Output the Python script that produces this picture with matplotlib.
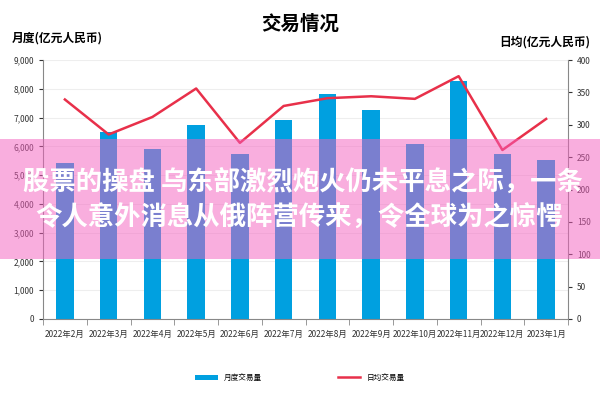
import numpy as np
import matplotlib.pyplot as plt
from matplotlib.ticker import FuncFormatter

plt.rcParams['font.family'] = ['Noto Sans CJK SC', 'DejaVu Sans']

# data
months = ['2022年2月', '2022年3月', '2022年4月', '2022年5月', '2022年6月', '2022年7月',
          '2022年8月', '2022年9月', '2022年10月', '2022年11月', '2022年12月', '2023年1月']
monthly = [5420, 6490, 5900, 6750, 5720, 6910, 7810, 7260, 6080, 8260, 5750, 5530]
daily = [339, 285, 312, 356, 272, 329, 341, 344, 340, 375, 261, 309]

bar_col = '#00A0E0'
line_col = '#E8304A'
gray = '#888888'

fig = plt.figure(figsize=(6, 4), dpi=100)
ax = fig.add_axes([0.0717, 0.2025, 0.875, 0.6475])
x = np.arange(len(months))

ax.bar(x, monthly, width=0.4, color=bar_col, label='月度交易量', zorder=2)
ax.set_ylim(0, 9000)
ax.set_xlim(-0.5, len(months) - 0.5)
ax.set_yticks(np.arange(0, 9001, 1000))
ax.yaxis.set_major_formatter(FuncFormatter(lambda v, p: f'{int(v):,}'))
ax.grid(axis='y', color='#eeeeee', lw=0.8, zorder=0)
ax.set_xticks(x)
ax.set_xticklabels(months, fontsize=6, color='#333333')
ax.set_xticks(np.arange(-0.5, len(months), 1), minor=True)
ax.tick_params(axis='x', which='major', length=0, pad=8)
ax.tick_params(axis='x', which='minor', length=4, color=gray)
ax.tick_params(axis='y', labelsize=6, colors='#333333', length=3)
for s in ['left', 'bottom']:
    ax.spines[s].set_color(gray)
for s in ['top', 'right']:
    ax.spines[s].set_visible(False)

ax2 = ax.twinx()
ax2.plot(x, daily, color=line_col, lw=1.8, label='日均交易量', zorder=3)
ax2.set_ylim(0, 400)
ax2.set_yticks(np.arange(0, 401, 50))
ax2.tick_params(axis='y', labelsize=6, colors='#333333', length=3)
ax2.spines['right'].set_color(gray)
for s in ['top', 'left', 'bottom']:
    ax2.spines[s].set_visible(False)

fig.text(0.5, 0.94, '交易情况', ha='center', va='center', fontsize=14, fontweight='bold')
fig.text(0.02, 0.905, '月度(亿元人民币)', ha='left', va='center', fontsize=8.5, fontweight='bold')
fig.text(0.983, 0.895, '日均(亿元人民币)', ha='right', va='center', fontsize=8.5, fontweight='bold')

h1, l1 = ax.get_legend_handles_labels()
h2, l2 = ax2.get_legend_handles_labels()
fig.legend(h1 + h2, l1 + l2, loc='center', bbox_to_anchor=(0.5, 0.055), ncol=2,
           frameon=False, fontsize=5.5, handlelength=2.9, columnspacing=10)

# pink overlay band with caption
band = plt.Rectangle((0, 0.3525), 1, 0.30, transform=fig.transFigure,
                     facecolor='#F55FBF', edgecolor='none', lw=0, alpha=0.5, zorder=10)
fig.patches.append(band)
fig.text(0.505, 0.543, '股票的操盘 乌东部激烈炮火仍未平息之际，一条', ha='center', va='center',
         fontsize=19, fontweight='bold', color='white', zorder=11)
fig.text(0.498, 0.455, '令人意外消息从俄阵营传来，令全球为之惊愕', ha='center', va='center',
         fontsize=19, fontweight='bold', color='white', zorder=11)

fig.savefig('out.png', dpi=100)
